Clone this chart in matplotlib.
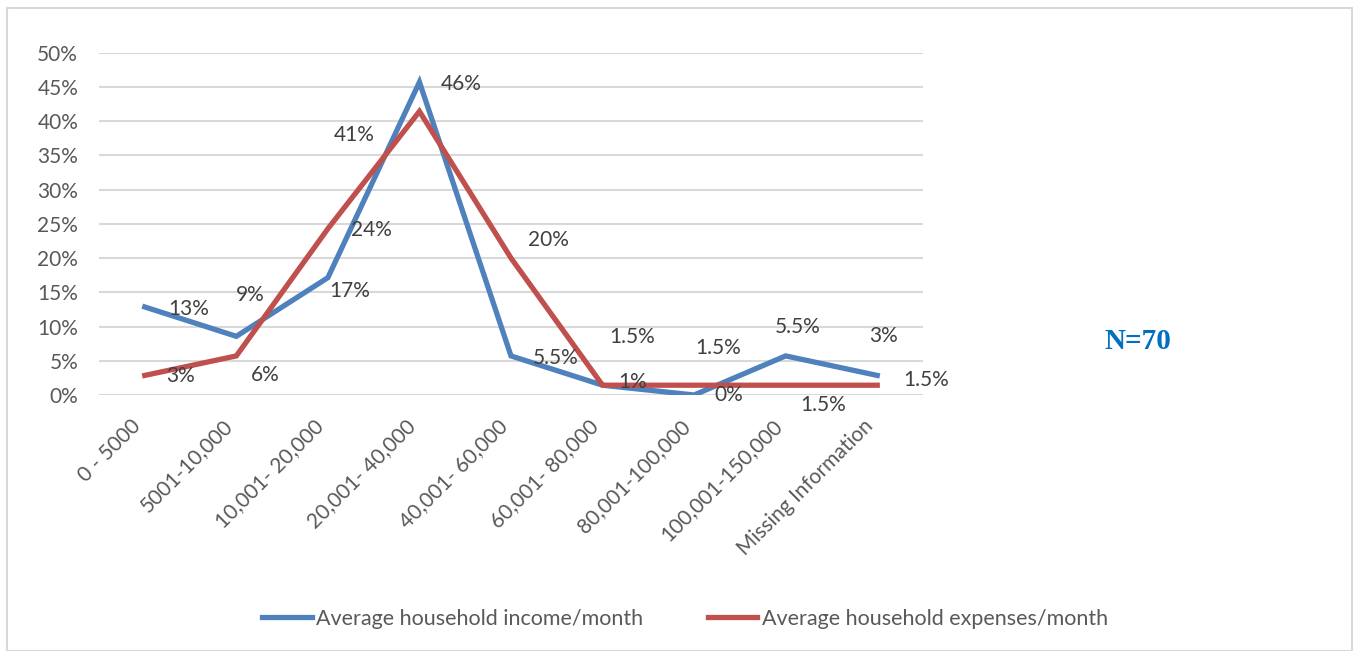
import matplotlib
matplotlib.use("Agg")
import matplotlib.pyplot as plt
from matplotlib.patches import Rectangle

# data (percent of N=70 households)
categories = ["0 - 5000", "5001-10,000", "10,001- 20,000", "20,001- 40,000",
              "40,001- 60,000", "60,001- 80,000", "80,001-100,000",
              "100,001-150,000", "Missing Information"]
income = [12.86, 8.57, 17.14, 45.71, 5.71, 1.43, 0.0, 5.71, 2.86]
expenses = [2.86, 5.71, 24.29, 41.43, 20.0, 1.43, 1.43, 1.43, 1.43]
income_labels = ["13%", "9%", "17%", "46%", "5.5%", "1%", "0%", "5.5%", "3%"]
expense_labels = ["3%", "6%", "24%", "41%", "20%", "1.5%", "1.5%", "1.5%", "1.5%"]
yticks = list(range(0, 55, 5))

# label offsets in pixels (hand placed like in the original)
income_offsets = [(44, -2), (14, 41), (22, -13), (42, -2), (45, -2),
                  (30, 3), (35, 0), (12, 29), (6, 39)]
expense_offsets = [(36, -1), (29, -19), (44, -1), (-65, -24), (37, 18),
                   (30, 48), (24, 37), (37, -20), (49, 5)]

plt.rcParams['font.family'] = ['Lato', 'DejaVu Sans']
text_grey = "#595959"
blue = "#4F81BD"
red = "#C0504D"
fs = 15

fig = plt.figure(figsize=(13.54, 6.51), dpi=100)
fig.patches.append(Rectangle((7 / 1354, 0.0), 1345 / 1354, (651 - 8) / 651,
                             transform=fig.transFigure, fill=False,
                             edgecolor="#D9D9D9", linewidth=1.5))

ax = fig.add_axes([99 / 1354, (651 - 395) / 651, 824 / 1354, 342.3 / 651])
x = list(range(len(categories)))

ax.plot(x, income, color=blue, linewidth=3.8, solid_joinstyle="miter",
        label="Average household income/month", zorder=3)
ax.plot(x, expenses, color=red, linewidth=3.8, solid_joinstyle="miter",
        label="Average household expenses/month", zorder=3)

for xi, v, lab, off in zip(x, income, income_labels, income_offsets):
    ax.annotate(lab, (xi, v), xytext=off, textcoords="offset pixels",
                ha="center", va="center", fontsize=fs, color="#404040", zorder=4)
for xi, v, lab, off in zip(x, expenses, expense_labels, expense_offsets):
    ax.annotate(lab, (xi, v), xytext=off, textcoords="offset pixels",
                ha="center", va="center", fontsize=fs, color="#404040", zorder=4)

ax.set_xlim(-0.5, len(categories) - 0.5)
ax.set_ylim(0, 50)
ax.set_yticks(yticks)
ax.set_yticklabels([f"{t}%" for t in yticks], fontsize=fs, color=text_grey)
ax.set_xticks(x)
ax.set_xticklabels(categories, rotation=45, ha="right", va="top",
                   fontsize=fs, color=text_grey)
ax.tick_params(axis="both", length=0)
ax.tick_params(axis="y", pad=15)
ax.tick_params(axis="x", pad=15)
ax.grid(axis="y", color="#D9D9D9", linewidth=1.5)
ax.set_axisbelow(True)
for s in ax.spines.values():
    s.set_visible(False)

fig.text(1138 / 1354, 1 - 342 / 651, "N=70", ha="center", va="center",
         fontsize=21, fontweight="bold", color="#0070C0",
         family="Liberation Serif")

fig.legend(loc="center", bbox_to_anchor=(685 / 1354, 1 - 619 / 651), ncol=2,
           frameon=False, fontsize=15.5, labelcolor=text_grey, handlelength=2.3,
           handletextpad=0.2, columnspacing=3.0)

fig.savefig("out.png", dpi=100)
